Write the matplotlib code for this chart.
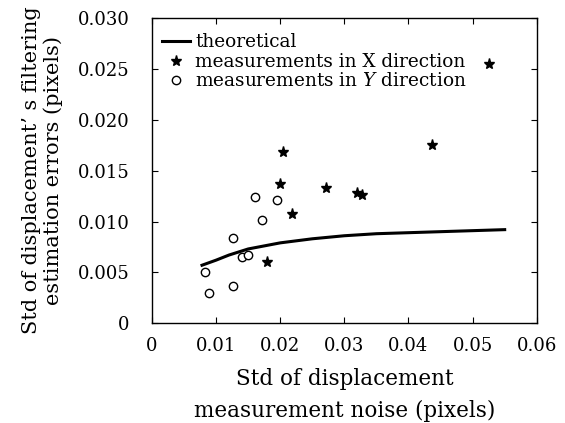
import matplotlib
matplotlib.use("Agg")
import matplotlib.pyplot as plt

# valeurs
theo_x = [0.0078, 0.010, 0.012, 0.015, 0.020, 0.025, 0.030, 0.035, 0.040, 0.045, 0.050, 0.055]
theo_y = [0.0057, 0.0062, 0.0067, 0.0073, 0.0079, 0.0083, 0.0086, 0.0088, 0.0089, 0.0090, 0.0091, 0.0092]

x_dir_x = [0.0526, 0.0205, 0.0436, 0.0200, 0.0271, 0.0320, 0.0328, 0.0218, 0.0179]
x_dir_y = [0.0255, 0.0168, 0.0175, 0.0137, 0.0133, 0.0128, 0.0126, 0.0107, 0.0060]

y_dir_x = [0.0160, 0.0195, 0.0172, 0.0126, 0.0141, 0.0150, 0.0083, 0.0089, 0.0126]
y_dir_y = [0.0124, 0.0121, 0.0101, 0.0084, 0.0065, 0.0067, 0.0050, 0.0030, 0.0037]

xticks = [0, 0.01, 0.02, 0.03, 0.04, 0.05, 0.06]
xtick_labels = ['0', '0.01', '0.02', '0.03', '0.04', '0.05', '0.06']
yticks = [0, 0.005, 0.010, 0.015, 0.020, 0.025, 0.030]
ytick_labels = ['0', '0.005', '0.010', '0.015', '0.020', '0.025', '0.030']

plt.rcParams['font.family'] = ['DejaVu Serif']
plt.rcParams['mathtext.fontset'] = 'dejavuserif'

fig = plt.figure(figsize=(5.65, 4.23), dpi=100)
ax = fig.add_axes([0.269, 0.236, 0.681, 0.721])

ax.plot(theo_x, theo_y, color='black', lw=2.2, label='theoretical')
ax.plot(x_dir_x, x_dir_y, ls='none', marker='*', ms=8, color='black',
        label='measurements in X direction')
ax.plot(y_dir_x, y_dir_y, ls='none', marker='o', ms=6, mfc='white', mec='black',
        mew=1.0, label='measurements in $Y$ direction')

ax.set_xlim(0, 0.06)
ax.set_ylim(0, 0.03)
ax.set_xticks(xticks)
ax.set_xticklabels(xtick_labels)
ax.set_yticks(yticks)
ax.set_yticklabels(ytick_labels)
ax.tick_params(direction='in', top=True, right=True, length=4, labelsize=13)
ax.tick_params(axis='x', pad=10)
ax.tick_params(axis='y', pad=16)
for s in ax.spines.values():
    s.set_linewidth(1.0)

ax.set_xlabel('Std of displacement\nmeasurement noise (pixels)', fontsize=15.5,
              labelpad=9, linespacing=1.6)
ax.set_ylabel('Std of displacement’ s filtering\nestimation errors (pixels)', fontsize=15,
              labelpad=11, linespacing=1.1)

# legende sans cadre, collee en haut a gauche
ax.legend(loc='upper left', bbox_to_anchor=(0.012, 0.968), frameon=False,
          fontsize=13.3, handlelength=1.5, handletextpad=0.3, labelspacing=0.08,
          borderaxespad=0.0, borderpad=0.3)

fig.savefig('out.png', dpi=100)
